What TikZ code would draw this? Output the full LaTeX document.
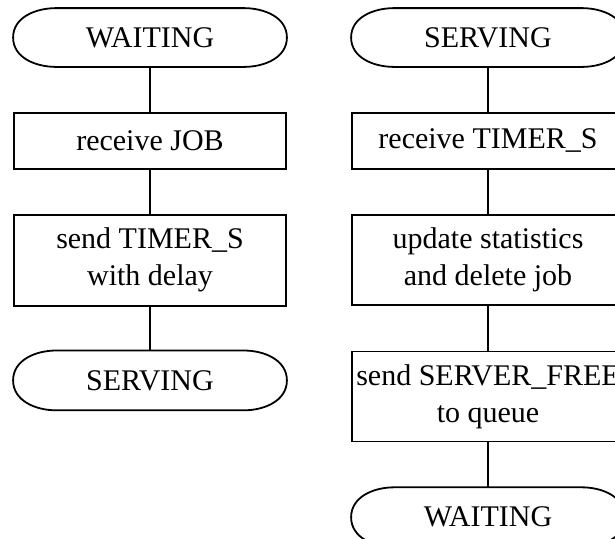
\documentclass[tikz,border=0pt]{standalone}
\usepackage{fontspec}
\setmainfont{Liberation Serif}
\usetikzlibrary{positioning}
\tikzstyle{statebox}=[rectangle,inner sep=0pt,minimum width=136pt,minimum height=28.5pt]
\tikzstyle{task}=[rectangle,draw=black,inner sep=0pt,minimum width=136pt,align=center]
\newcommand{\stateline}[1]{%
  \draw ([xshift=21.5pt]#1.north west) -- ([xshift=-21.5pt]#1.north east)
    to[out=0,in=90] (#1.east) to[out=-90,in=0] ([xshift=-21.5pt]#1.south east)
    -- ([xshift=21.5pt]#1.south west) to[out=180,in=-90] (#1.west)
    to[out=90,in=180] ([xshift=21.5pt]#1.north west);}

\begin{document}
\begin{tikzpicture}[node distance=22.5pt, line width=0.9pt,
    font=\fontsize{15}{18.5}\selectfont]
            \useasboundingbox (0,0) rectangle (307.5pt,-269pt);
            \clip (0,0) rectangle (307.5pt,-269pt);

            % WAITING PART

            \node[statebox] (s1) at (75pt,-18.75pt) {WAITING};
            \node[task, below=22.5pt of s1, minimum height=28pt] (b1) {receive JOB};
            \node[task, below=22pt of b1, minimum height=45.5pt] (b2) {send TIMER\_S\\with delay};
            \node[statebox, below=22pt of b2, minimum height=29pt] (s2) {SERVING};

            \stateline{s1}
            \stateline{s2}

            \draw (s1) -- (b1);
            \draw (b1) -- (b2);
            \draw (b2) -- (s2);

            % SERVING PART

            \node[statebox] (s3) at (244pt,-18.75pt) {SERVING};
            \node[task, below=22.5pt of s3, minimum height=28pt] (b3) {receive TIMER\_S};
            \node[task, below=22pt of b3, minimum height=45pt] (b4) {update statistics\\and delete job};
            \node[task, below=22.5pt of b4, minimum height=45pt] (b5) {send SERVER\_FREE\\to queue};
            \node[statebox, below=22.5pt of b5, minimum height=29pt] (s4) {WAITING};

            \stateline{s3}
            \stateline{s4}

            \draw (s3) -- (b3);
            \draw (b3) -- (b4);
            \draw (b4) -- (b5);
            \draw (b5) -- (s4);

\end{tikzpicture}
\end{document}
